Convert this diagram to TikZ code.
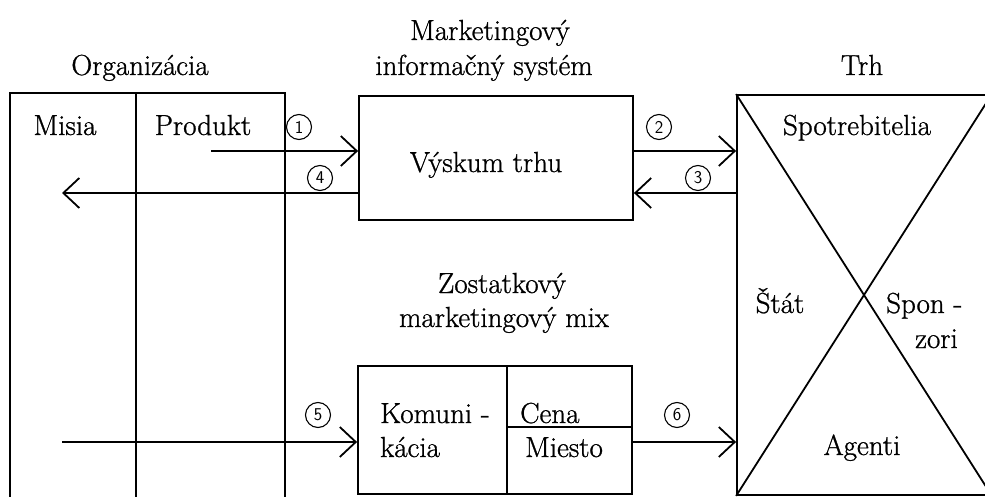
\documentclass[tikz,border=0pt]{standalone}
\usepackage{fontspec}
\setmainfont{Latin Modern Roman}[RawFeature={embolden=0.9}]
\usetikzlibrary{arrows.meta}
\tikzset{
  frame/.style={draw, line width=1.8pt, rectangle, inner sep=0pt},
  rule/.style={line width=1.8pt},
  flow/.style={line width=1.8pt, -{Straight Barb[length=16pt, width=30pt, line width=1.8pt]}},
  lbl/.style={inner sep=0pt, font=\fontsize{29}{33}\selectfont},
  num/.style={circle, draw, line width=1.1pt, minimum size=25pt, inner sep=0pt,
              font=\sffamily\fontsize{18}{18}\selectfont}
}
\begin{document}
\begin{tikzpicture}[x=1pt,y=-1pt]
\path[use as bounding box, clip] (0,0) rectangle (985,497);
\fill[white] (0,0) rectangle (985,497);

% headings
\node[lbl, anchor=base] (hOrg) at (140,75) {Organizácia};
\node[lbl, anchor=base] (hMis1) at (490,40) {Marketingový};
\node[lbl, anchor=base] (hMis2) at (484,75) {informačný systém};
\node[lbl, anchor=base] (hTrh) at (862,75) {Trh};
\node[lbl, anchor=base] (hMix1) at (502,293) {Zostatkový};
\node[lbl, anchor=base] (hMix2) at (504,327) {marketingový mix};

% organization (open towards the bottom)
\node[frame, minimum width=275pt, minimum height=430pt] (org) at (147.5,308) {};
\draw[rule] (136,93) -- (136,540);
\node[lbl, anchor=base] (misia) at (65,135) {Misia};
\node[lbl, anchor=base] (produkt) at (203,135) {Produkt};

% marketing information system
\node[frame, minimum width=274pt, minimum height=124pt] (mis) at (496,158) {};
\node[lbl, anchor=base] (vyskum) at (486,172) {Výskum trhu};

% market
\node[frame, minimum width=254pt, minimum height=400pt] (trh) at (864,295) {};
\draw[rule] (trh.north west) -- (trh.south east);
\draw[rule] (trh.north east) -- (trh.south west);
\node[lbl, anchor=base] (spotr) at (857,135) {Spotrebitelia};
\node[lbl, anchor=base] (stat) at (780,313) {Štát};
\node[lbl, anchor=base west] (spon) at (886,313) {Spon -};
\node[lbl, anchor=base east] (zori) at (958,348) {zori};
\node[lbl, anchor=base] (agenti) at (862,455) {Agenti};

% remaining marketing mix
\node[frame, minimum width=274pt, minimum height=128pt] (mix) at (495,430) {};
\draw[rule] (507,366) -- (507,494);
\draw[rule] (507,427) -- (632,427);
\node[lbl, anchor=base west] (komuni) at (380,423) {Komuni -};
\node[lbl, anchor=base west] (kacia) at (380,457) {kácia};
\node[lbl, anchor=base west] (cena) at (520,423) {Cena};
\node[lbl, anchor=base west] (miesto) at (525,457) {Miesto};

% free ends of the flows
\coordinate (s1) at (211,151);
\coordinate (e4) at (62,193);
\coordinate (s5) at (62,442);

% flows
\draw[flow] (s1) -- (s1 -| mis.west);
\draw[flow] (mis.west |- e4) -- (e4);
\draw[flow] (mis.east |- s1) -- (trh.west |- s1);
\draw[flow] (trh.west |- e4) -- (mis.east |- e4);
\draw[flow] (s5) -- (s5 -| mix.west);
\draw[flow] (mix.east |- s5) -- (trh.west |- s5);

% flow numbers
\node[num] (n1) at (299,127) {1};
\node[num] (n2) at (659,127) {2};
\node[num] (n3) at (698,178) {3};
\node[num] (n4) at (320,178) {4};
\node[num] (n5) at (318,415) {5};
\node[num] (n6) at (677,415) {6};
\end{tikzpicture}
\end{document}
